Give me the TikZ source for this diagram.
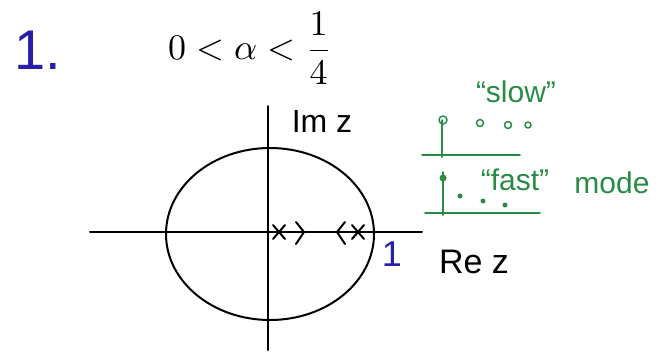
\documentclass[tikz,border=0pt]{standalone}
\usepackage{fontspec}
\setmainfont{Liberation Sans}
\usetikzlibrary{calc}
\definecolor{penblue}{RGB}{40,30,170}
\definecolor{pengreen}{RGB}{40,140,70}
\begin{document}
\begin{tikzpicture}[x=1pt,y=-1pt,
  ink/.style={line width=2pt,line cap=round,line join=round},
  gink/.style={ink,pengreen,line width=1.5pt},
  lbl/.style={inner sep=0pt,anchor=center}]
\useasboundingbox (0,0) rectangle (667,354);
% heading
\node[lbl,penblue,font=\fontsize{56}{60}\selectfont] (num) at (38,50) {1.};
\node[lbl] (cond) at (250,48) {\scalebox{3.6}{$0<\alpha<{\displaystyle\frac{1}{4}}$}};
% axes
\coordinate (xl) at (90,232);
\coordinate (xr) at (422,232);
\coordinate (yt) at (268,106);
\coordinate (yb) at (268,350);
\draw[ink] (xl) -- (xr);
\draw[ink] (yt) -- (yb);
% unit circle
\coordinate (o) at (270,234);
\draw[ink] (o) ellipse [x radius=104, y radius=86];
% poles and arrows
\coordinate (p1) at (279,232);
\coordinate (p2) at (358,232);
\draw[ink] ($(p1)+(-6,-7)$) -- ($(p1)+(6,7)$) ($(p1)+(-6,7)$) -- ($(p1)+(6,-7)$);
\draw[ink] ($(p2)+(-6,-7)$) -- ($(p2)+(6,7)$) ($(p2)+(-6,7)$) -- ($(p2)+(6,-7)$);
\draw[ink] (296,222) -- (304,232) -- (296,244);
\draw[ink] (345,222) -- (337,232) -- (345,244);
% axis labels
\node[lbl,font=\fontsize{32}{34}\selectfont] (im) at (322,121) {Im z};
\node[lbl,font=\fontsize{34}{36}\selectfont] (re) at (474,262) {Re z};
\node[lbl,penblue,font=\fontsize{36}{38}\selectfont] (one) at (392,254) {1};
% green sketches: slow
\node[lbl,pengreen,font=\fontsize{30}{32}\selectfont] (slow) at (516,92) {``slow''};
\draw[gink] (422,155) -- (520,155);
\draw[gink] (442,157) -- (442,120);
\draw[gink] (443,120) circle (4);
\draw[gink] (480,123) circle (3.5);
\draw[gink] (508,125) circle (3.5);
\draw[gink] (528,125) circle (3);
% green sketches: fast
\node[lbl,pengreen,font=\fontsize{30}{32}\selectfont] (fast) at (515,180) {``fast''};
\node[lbl,pengreen,font=\fontsize{30}{32}\selectfont] (mode) at (612,183) {mode};
\draw[gink] (425,213) -- (540,213);
\draw[gink] (443,215) -- (443,172);
\fill[pengreen] (443,178) circle (3.5);
\fill[pengreen] (460,196) circle (2.5);
\fill[pengreen] (483,201) circle (2.5);
\fill[pengreen] (505,205) circle (2.5);
\end{tikzpicture}
\end{document}
